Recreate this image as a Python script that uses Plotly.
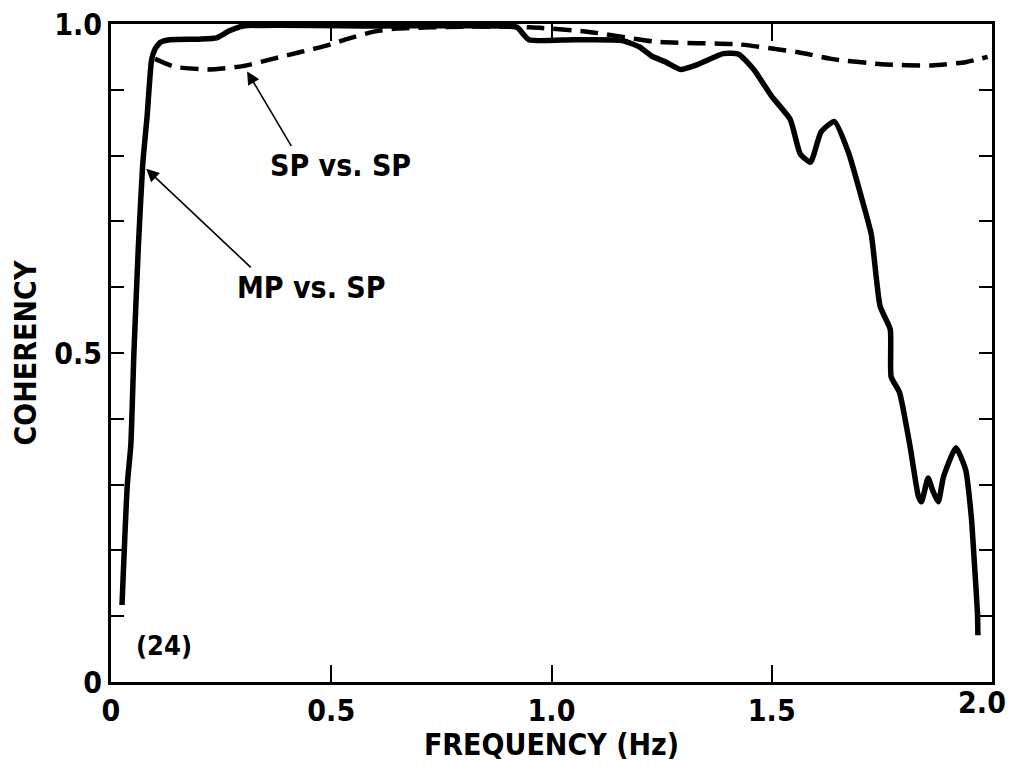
import plotly.graph_objects as go

# MP vs. SP (solid)
mp_freq = [0.025, 0.037, 0.045, 0.052, 0.062, 0.072, 0.082, 0.092, 0.100, 0.112, 0.134,
           0.20, 0.24, 0.27, 0.30, 0.60, 0.90, 0.922, 0.949, 1.05, 1.16, 1.20, 1.228,
           1.26, 1.293, 1.33, 1.39, 1.425, 1.46, 1.50, 1.542, 1.565, 1.588, 1.612,
           1.642, 1.674, 1.703, 1.726, 1.746, 1.769, 1.771, 1.79, 1.814, 1.833, 1.84,
           1.855, 1.866, 1.878, 1.89, 1.918, 1.94, 1.953, 1.96, 1.967, 1.968]
mp_coh = [0.117, 0.30, 0.36, 0.50, 0.66, 0.787, 0.86, 0.945, 0.962, 0.972, 0.976,
          0.977, 0.979, 0.99, 0.997, 0.997, 0.997, 0.995, 0.976, 0.976, 0.975, 0.965, 0.951,
          0.942, 0.931, 0.938, 0.955, 0.954, 0.93, 0.89, 0.855, 0.802, 0.79, 0.836,
          0.852, 0.805, 0.738, 0.68, 0.571, 0.536, 0.464, 0.44, 0.358, 0.282, 0.274,
          0.31, 0.29, 0.274, 0.312, 0.356, 0.323, 0.251, 0.181, 0.105, 0.071]

# SP vs. SP (dashed)
sp_freq = [0.10, 0.145, 0.22, 0.30, 0.367, 0.428, 0.489, 0.535, 0.594, 0.648, 0.80,
           0.95, 1.085, 1.237, 1.425, 1.56, 1.635, 1.749, 1.862, 1.94, 1.99]
sp_coh = [0.947, 0.935, 0.931, 0.936, 0.947, 0.957, 0.967, 0.977, 0.988, 0.993, 0.996,
          0.995, 0.988, 0.973, 0.969, 0.957, 0.947, 0.939, 0.937, 0.942, 0.95]

x_ticks = [0, 0.5, 1.0, 1.5]
x_labels = ["0", "0.5", "1.0", "1.5"]
x_end_tick = [2.0]
x_end_label = ["2.0"]
y_ticks = [0, 0.5, 1.0]
y_labels = ["0", "0.5", "1.0"]

FONT = "DejaVu Sans Condensed"
tf = dict(family=FONT, size=30, color="black", weight="bold")

fig = go.Figure()
fig.add_trace(go.Scatter(x=mp_freq, y=mp_coh, mode="lines",
                         line=dict(color="black", width=5.5, shape="spline", smoothing=0.5),
                         showlegend=False))
fig.add_trace(go.Scatter(x=sp_freq, y=sp_coh, mode="lines",
                         line=dict(color="black", width=4.5, dash="18px,9px",
                                   shape="spline", smoothing=0.6),
                         showlegend=False))
# empty trace so the overlay axis carrying the "2.0" label is drawn
fig.add_trace(go.Scatter(x=[], y=[], xaxis="x2", showlegend=False, hoverinfo="skip"))

# arrows + labels
fig.add_annotation(x=0.309, y=0.928, ax=45, ay=76, text="", showarrow=True,
                   arrowhead=2, arrowsize=1.6, arrowwidth=1.6, arrowcolor="black")
fig.add_annotation(x=0.52, y=0.785, text="SP vs. SP", showarrow=False, font=tf)
fig.add_annotation(x=0.08, y=0.78, ax=106, ay=100, text="", showarrow=True,
                   arrowhead=2, arrowsize=1.6, arrowwidth=1.6, arrowcolor="black")
fig.add_annotation(x=0.455, y=0.60, text="MP vs. SP", showarrow=False, font=tf)
fig.add_annotation(x=0.12, y=0.056, text="(24)", showarrow=False,
                   font=dict(family=FONT, size=27, color="black", weight="bold"))

fig.update_xaxes(range=[0, 2.0], tickvals=x_ticks, ticktext=x_labels,
                 ticks="inside", ticklen=17, tickwidth=1.5, tickcolor="black",
                 showline=True, linewidth=3, linecolor="black", mirror="allticks",
                 showgrid=False, zeroline=False, automargin=False, tickfont=tf,
                 ticklabeloverflow="allow",
                 title=dict(text="FREQUENCY (Hz)", standoff=4, font=tf))
fig.update_yaxes(range=[0, 1.0], tickvals=y_ticks, ticktext=y_labels,
                 ticks="inside", ticklen=13, tickwidth=1.5, tickcolor="black",
                 minor=dict(dtick=0.1, ticks="inside", ticklen=13, tickwidth=1.5,
                            tickcolor="black", showgrid=False),
                 showline=True, linewidth=3, linecolor="black", mirror="allticks",
                 showgrid=False, zeroline=False, automargin=False, tickfont=tf,
                 ticklabeloverflow="allow",
                 title=dict(text="COHERENCY", standoff=18, font=tf))

# page body adds 8px around the figure, so the figure is a bit smaller than the window
fig.update_layout(
    width=998, height=754, plot_bgcolor="white", paper_bgcolor="white",
    margin=dict(l=103, r=14, t=16, b=80),
    xaxis2=dict(overlaying="x", side="bottom", range=[0, 2.0], tickvals=x_end_tick,
                ticktext=x_end_label, ticks="", ticklabelshift=-10, showline=False,
                showgrid=False, zeroline=False, automargin=False, tickfont=tf,
                ticklabeloverflow="allow"),
)

fig.write_html("out.html")
